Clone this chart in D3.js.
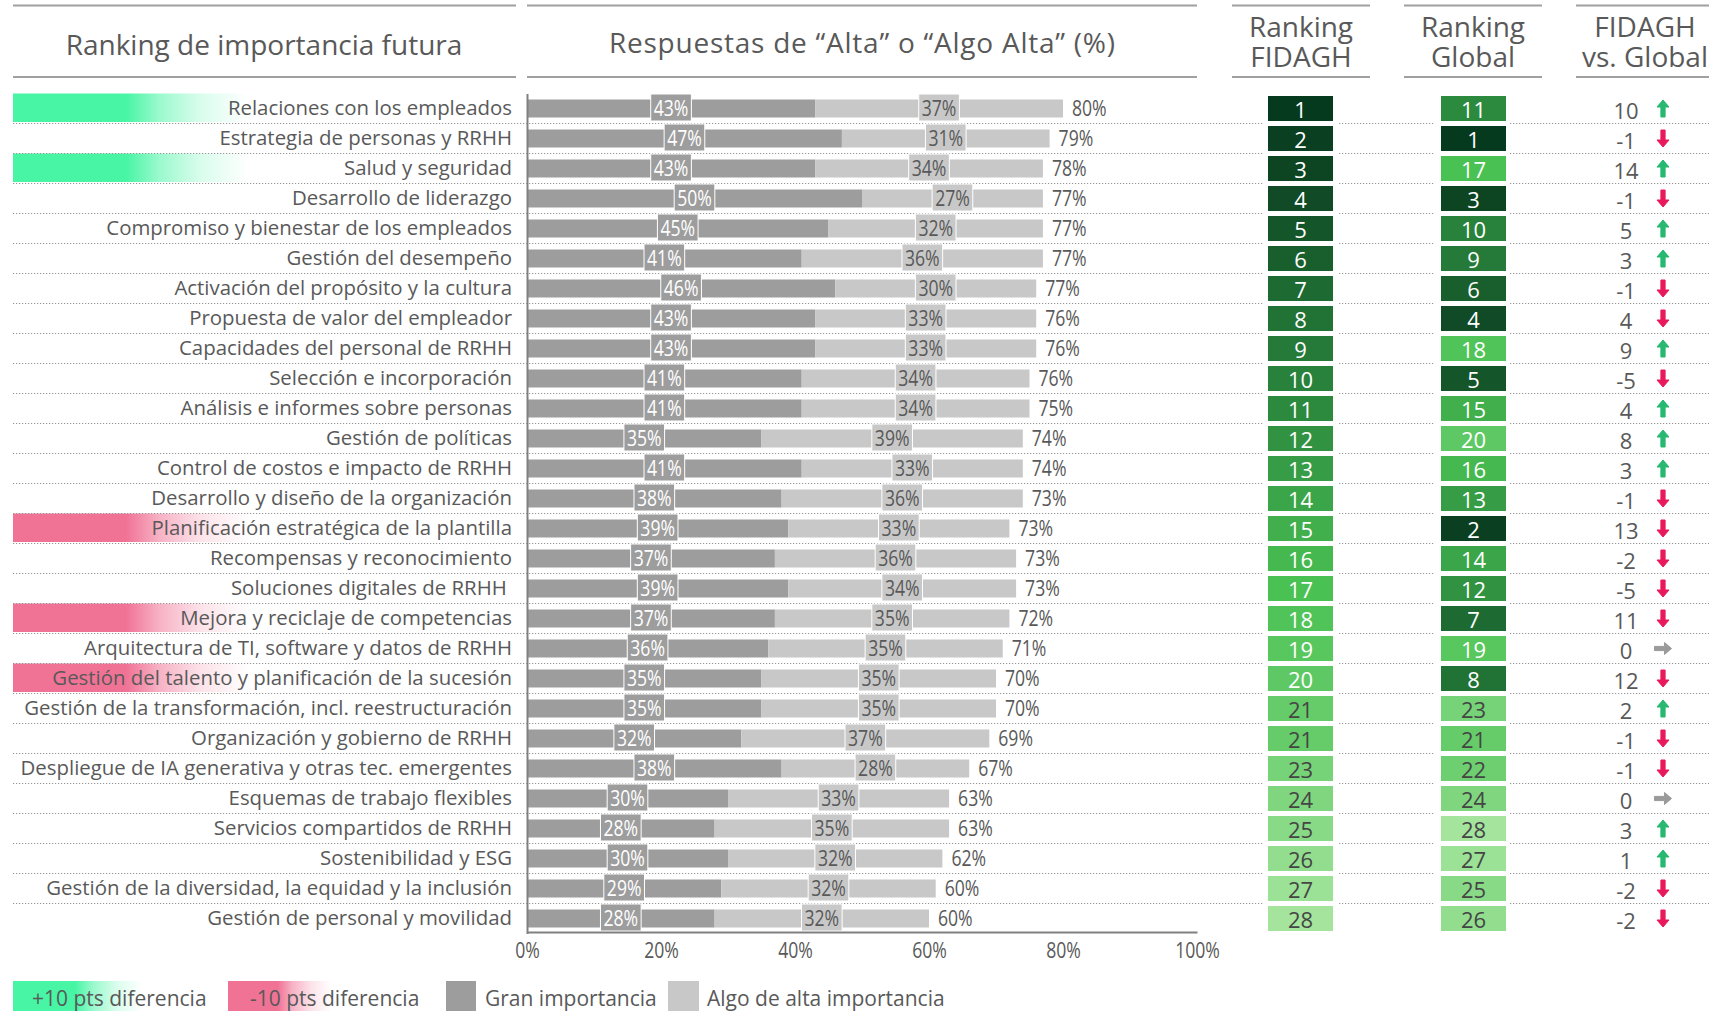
<!DOCTYPE html>
<html>
<head>
<meta charset="utf-8">
<script src="https://cdn.jsdelivr.net/npm/d3@7"></script>
<style>
  body { margin: 0; background: #fff; }
  svg { display: block; font-family: 'Open Sans', sans-serif; }
</style>
</head>
<body>
<svg id="chart" width="1709" height="1011"></svg>
<script>
// ---- Datos ----
const categorias = [
  "Relaciones con los empleados",
  "Estrategia de personas y RRHH",
  "Salud y seguridad",
  "Desarrollo de liderazgo",
  "Compromiso y bienestar de los empleados",
  "Gestión del desempeño",
  "Activación del propósito y la cultura",
  "Propuesta de valor del empleador",
  "Capacidades del personal de RRHH",
  "Selección e incorporación",
  "Análisis e informes sobre personas",
  "Gestión de políticas",
  "Control de costos e impacto de RRHH",
  "Desarrollo y diseño de la organización",
  "Planificación estratégica de la plantilla",
  "Recompensas y reconocimiento",
  "Soluciones digitales de RRHH\u00a0",
  "Mejora y reciclaje de competencias",
  "Arquitectura de TI, software y datos de RRHH",
  "Gestión del talento y planificación de la sucesión",
  "Gestión de la transformación, incl. reestructuración",
  "Organización y gobierno de RRHH",
  "Despliegue de IA generativa y otras tec. emergentes",
  "Esquemas de trabajo flexibles",
  "Servicios compartidos de RRHH",
  "Sostenibilidad y ESG",
  "Gestión de la diversidad, la equidad y la inclusión",
  "Gestión de personal y movilidad"
];
const granImportancia = [43,47,43,50,45,41,46,43,43,41,41,35,41,38,39,37,39,37,36,35,35,32,38,30,28,30,29,28];
const algoAlta        = [37,31,34,27,32,36,30,33,33,34,34,39,33,36,33,36,34,35,35,35,35,37,28,33,35,32,32,32];
const totales         = [80,79,78,77,77,77,77,76,76,76,75,74,74,73,73,73,73,72,71,70,70,69,67,63,63,62,60,60];
const rankingFidagh   = [1,2,3,4,5,6,7,8,9,10,11,12,13,14,15,16,17,18,19,20,21,21,23,24,25,26,27,28];
const rankingGlobal   = [11,1,17,3,10,9,6,4,18,5,15,20,16,13,2,14,12,7,19,8,23,21,22,24,28,27,25,26];
const diferencia      = [10,-1,14,-1,5,3,-1,4,9,-5,4,8,3,-1,13,-2,-5,11,0,12,2,-1,-1,0,3,1,-2,-2];
const tendencia       = ["up","down","up","down","up","up","down","down","up","down","up","up","up","down",
                         "down","down","down","down","flat","down","up","down","down","flat","up","up","down","down"];
// destacado: +10 pts (pos) o -10 pts (neg) de diferencia
const destacado       = ["pos",null,"pos",null,null,null,null,null,null,null,null,null,null,null,
                         "neg",null,null,"neg",null,"neg",null,null,null,null,null,null,null,null];
const ticksEje = [0,20,40,60,80,100];

// ---- Estilos ----
const TXT = "#595959";
const C_GRAN = "#9d9d9d";
const C_ALGO = "#c8c8c8";
const C_POS = "#48f5a5";
const C_NEG = "#f07396";
const NARROW = 0.8;             // compresión horizontal de las cifras en %
const PCT_SIZE = 22;

const svg = d3.select("#chart");
const defs = svg.append("defs");

function fade(id, color) {
  const g = defs.append("linearGradient").attr("id", id)
    .attr("x1", 0).attr("x2", 1).attr("y1", 0).attr("y2", 0);
  [[0, 1], [0.48, 1], [0.62, 0.55], [0.8, 0.2], [1, 0]].forEach(([o, a]) =>
    g.append("stop").attr("offset", o).attr("stop-color", color).attr("stop-opacity", a));
}
fade("gradPos", C_POS);
fade("gradNeg", C_NEG);

// ---- Escalas ----
const x = d3.scaleLinear().domain([0, 100]).range([527, 1197]);
const y = d3.scaleBand().domain(categorias).range([93.5, 933.5]);
const cy = c => y(c) + y.bandwidth() / 2;

const rankColor = d3.scaleLinear()
  .domain([1, 4, 7, 11, 17, 21, 28])
  .range(["#063a1e", "#114a26", "#1d6a32", "#2c8a3f", "#4ac153", "#65cc69", "#a4e49d"])
  .interpolate(d3.interpolateRgb);

const rows = categorias.map((c, i) => ({
  cat: c, gran: granImportancia[i], algo: algoAlta[i], total: totales[i],
  rf: rankingFidagh[i], rg: rankingGlobal[i], dif: diferencia[i],
  dir: tendencia[i], hl: destacado[i]
}));

// ---- Encabezados ----
const head = svg.append("g").attr("fill", TXT).attr("font-size", 28);
const headLines = [[13, 516], [527, 1197], [1232, 1370], [1404, 1542], [1576, 1709]];
headLines.forEach(([a, b]) => {
  [5.5, 77].forEach(yy => head.append("line")
    .attr("x1", a).attr("x2", b).attr("y1", yy).attr("y2", yy)
    .attr("stroke", "#a0a0a0").attr("stroke-width", 2));
});
head.append("text").attr("x", 264).attr("y", 55).attr("text-anchor", "middle")
  .text("Ranking de importancia futura");
head.append("text").attr("x", 862).attr("y", 53).attr("text-anchor", "middle")
  .attr("textLength", 506).attr("lengthAdjust", "spacing")
  .text("Respuestas de “Alta” o “Algo Alta” (%)");
[[1301, ["Ranking", "FIDAGH"]], [1473, ["Ranking", "Global"]], [1645, ["FIDAGH", "vs. Global"]]]
  .forEach(([cx, lines]) => {
    const t = head.append("text").attr("text-anchor", "middle");
    lines.forEach((s, k) => t.append("tspan").attr("x", cx).attr("y", 37 + k * 30).text(s));
  });

// ---- Resaltado de filas ----
svg.append("g").selectAll("rect").data(rows.filter(r => r.hl)).join("rect")
  .attr("x", 13).attr("width", 236)
  .attr("y", r => cy(r.cat) - 15).attr("height", 28.5)
  .attr("fill", r => r.hl === "pos" ? "url(#gradPos)" : "url(#gradNeg)");

// ---- Separadores punteados ----
const sepY = rows.slice(0, -1).map(r => y(r.cat) + y.bandwidth());
const sepSegments = [[13, 1263], [1339, 1435], [1510, 1709]];
const sepG = svg.append("g").attr("stroke", "#949494").attr("stroke-width", 1.2)
  .attr("stroke-dasharray", "1.2 1.8");
sepY.forEach(yy => sepSegments.forEach(([a, b]) =>
  sepG.append("line").attr("x1", a).attr("x2", b).attr("y1", yy).attr("y2", yy)));

// ---- Etiquetas de categorías ----
svg.append("g").attr("font-size", 20.4).attr("fill", TXT).attr("text-anchor", "end")
  .style("white-space", "pre")
  .selectAll("text").data(rows).join("text")
  .attr("x", 512).attr("y", r => cy(r.cat) + 6.5)
  .text(r => r.cat);

// ---- Barras apiladas ----
const BAR_H = 18;
const bars = svg.append("g");
bars.selectAll("rect.gran").data(rows).join("rect").attr("class", "gran")
  .attr("x", x(0)).attr("width", r => x(r.gran) - x(0))
  .attr("y", r => cy(r.cat) - BAR_H / 2).attr("height", BAR_H).attr("fill", C_GRAN);
bars.selectAll("rect.algo").data(rows).join("rect").attr("class", "algo")
  .attr("x", r => x(r.gran)).attr("width", r => x(r.gran + r.algo) - x(r.gran))
  .attr("y", r => cy(r.cat) - BAR_H / 2).attr("height", BAR_H).attr("fill", C_ALGO);

// Etiquetas de segmento con caja
function segLabel(sel, valueOf, centerOf, boxFill, textFill) {
  const g = sel.append("g").attr("transform", r => `translate(${centerOf(r)},${cy(r.cat)})`);
  g.append("text").attr("text-anchor", "middle").attr("y", 7.8)
    .attr("transform", `scale(${NARROW},1)`)
    .attr("font-size", PCT_SIZE).attr("fill", textFill)
    .text(r => valueOf(r) + "%");
  g.insert("rect", "text").each(function () {
    const w = this.parentNode.querySelector("text").getComputedTextLength() * NARROW + 6;
    d3.select(this).attr("x", -w / 2).attr("width", w);
  }).attr("y", -14.5).attr("height", 27).attr("fill", boxFill)
    .attr("stroke", "#fff").attr("stroke-width", 1);
}
const segSel = svg.append("g").selectAll("g.row").data(rows).join("g").attr("class", "row");
segLabel(segSel, r => r.gran, r => x(r.gran / 2), C_GRAN, "#fff");
segLabel(segSel, r => r.algo, r => x(r.gran + r.algo / 2), C_ALGO, TXT);

// Totales
svg.append("g").attr("font-size", PCT_SIZE).attr("fill", TXT)
  .selectAll("g").data(rows).join("g")
  .attr("transform", r => `translate(${x(r.gran + r.algo) + 9},${cy(r.cat) + 7.8})`)
  .append("text").attr("transform", `scale(${NARROW},1)`)
  .text(r => r.total + "%");

// ---- Ejes ----
const axisColor = "#808080";
const gx = svg.append("g").attr("transform", "translate(0,932)")
  .call(d3.axisBottom(x).tickValues(ticksEje).tickFormat(d => d + "%")
    .tickSize(0).tickSizeOuter(0).tickPadding(10));
gx.select(".domain").attr("stroke", axisColor).attr("stroke-width", 2);
gx.selectAll(".tick text").attr("font-family", "'Open Sans', sans-serif")
  .attr("font-size", PCT_SIZE).attr("fill", TXT)
  .attr("transform", `scale(${NARROW},1)`);

const gy = svg.append("g").attr("transform", `translate(${x(0)},0)`)
  .call(d3.axisLeft(y).tickValues([]).tickSizeOuter(0));
gy.select(".domain").attr("stroke", axisColor).attr("stroke-width", 2);

// ---- Columnas de ranking ----
function rankCol(cx, key) {
  const g = svg.append("g").selectAll("g").data(rows).join("g")
    .attr("transform", r => `translate(${cx},${cy(r.cat)})`);
  g.append("rect").attr("x", -32.5).attr("width", 65).attr("y", -12.5).attr("height", 25)
    .attr("fill", r => rankColor(r[key]));
  g.append("text").attr("text-anchor", "middle").attr("y", 9).attr("font-size", 22)
    .attr("fill", r => r[key] <= 20 ? "#fff" : "#454545")
    .text(r => r[key]);
}
rankCol(1300.5, "rf");
rankCol(1473.5, "rg");

// ---- Diferencia FIDAGH vs. Global ----
const difG = svg.append("g").selectAll("g").data(rows).join("g")
  .attr("transform", r => `translate(0,${cy(r.cat)})`);
difG.append("text").attr("x", 1626).attr("y", 10).attr("text-anchor", "middle")
  .attr("font-size", 22).attr("fill", TXT).text(r => r.dif);

const arrowPath = "M0,-8.5 L6,-1.5 L2.1,-1.5 L2.1,8.5 L-2.1,8.5 L-2.1,-1.5 L-6,-1.5 Z";
const arrowStyle = {
  up:   { rot: 0,   fill: "#27b871" },
  down: { rot: 180, fill: "#e8195a" },
  flat: { rot: 90,  fill: "#9a9a9a" }
};
difG.append("path").attr("d", arrowPath)
  .attr("transform", r => `translate(1663,0) rotate(${arrowStyle[r.dir].rot})`)
  .attr("fill", r => arrowStyle[r.dir].fill)
  .attr("stroke", r => arrowStyle[r.dir].fill).attr("stroke-width", 1).attr("stroke-linejoin", "round");

// ---- Leyenda ----
const leg = svg.append("g").attr("font-size", 21).attr("fill", TXT);
leg.append("rect").attr("x", 13).attr("y", 981).attr("width", 130).attr("height", 31).attr("fill", "url(#gradPos)");
leg.append("text").attr("x", 32).attr("y", 1006).text("+10 pts diferencia");
leg.append("rect").attr("x", 228).attr("y", 981).attr("width", 104).attr("height", 31).attr("fill", "url(#gradNeg)");
leg.append("text").attr("x", 250).attr("y", 1006).text("-10 pts diferencia");
leg.append("rect").attr("x", 446).attr("y", 981).attr("width", 30).attr("height", 31).attr("fill", C_GRAN);
leg.append("text").attr("x", 485).attr("y", 1006).text("Gran importancia");
leg.append("rect").attr("x", 668).attr("y", 981).attr("width", 31).attr("height", 31).attr("fill", C_ALGO);
leg.append("text").attr("x", 707).attr("y", 1006).text("Algo de alta importancia");
</script>
</body>
</html>
